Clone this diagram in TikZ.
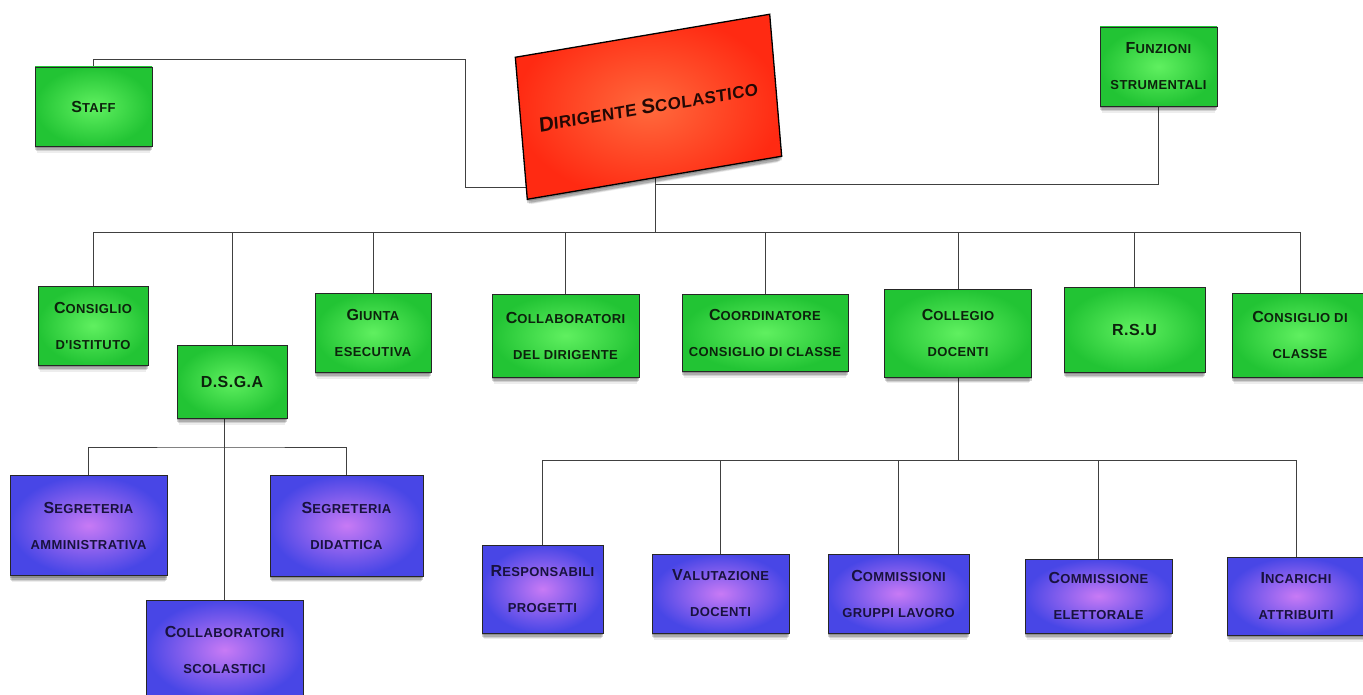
\documentclass[tikz,border=0pt]{standalone}
\usepackage{fontspec}
\usetikzlibrary{shadows,backgrounds}
\newfontfamily\lblfont[LetterSpace=3]{Liberation Sans}
\newcommand\scx[2]{{\fontsize{16}{36}\selectfont #1}{\fontsize{13}{36}\selectfont #2}}
\newcommand\scb[2]{{\fontsize{20.5}{24}\selectfont #1}{\fontsize{17}{24}\selectfont #2}}
\definecolor{gin}{RGB}{96,240,96}
\definecolor{gout}{RGB}{34,196,52}
\definecolor{pin}{RGB}{200,122,245}
\definecolor{pout}{RGB}{72,70,230}
\definecolor{rin}{RGB}{255,106,61}
\definecolor{rout}{RGB}{255,42,18}
\definecolor{gtxt}{RGB}{12,34,12}
\definecolor{ptxt}{RGB}{24,18,62}
\definecolor{rtxt}{RGB}{36,8,4}
\tikzset{
  softshadow/.style={
    drop shadow={shadow xshift=0pt, shadow yshift=-2pt, opacity=0.18, fill=black},
    drop shadow={shadow xshift=0pt, shadow yshift=-4pt, opacity=0.16, fill=black},
    drop shadow={shadow xshift=0pt, shadow yshift=-6pt, shadow scale=0.985, opacity=0.12, fill=black},
    drop shadow={shadow xshift=0pt, shadow yshift=-8pt, shadow scale=0.97, opacity=0.07, fill=black}},
  box/.style={draw=black!85, line width=0.8pt, inner sep=0pt, align=center,
    font=\lblfont\bfseries\fontsize{13}{36}\selectfont, softshadow},
  gbox/.style={box, shading=radial, inner color=gin, outer color=gout, text=gtxt},
  pbox/.style={box, shading=radial, inner color=pin, outer color=pout, text=ptxt},
  link/.style={draw=black!75, line width=0.8pt},
}
\begin{document}
\begin{tikzpicture}[x=1pt,y=-1pt]
\useasboundingbox (0,0) rectangle (1363,695);
% top level
\node[box, shading=radial, inner color=rin, outer color=rout, text=rtxt,
  line width=1.3pt, draw=black, minimum width=258pt, minimum height=142pt,
  rotate=9.6, xslant=0.0835, font=\lblfont\bfseries\fontsize{17}{24}\selectfont] (ds) at (648.5,106.75)
  {\scb{D}{IRIGENTE} \scb{S}{COLASTICO}};
\node[gbox, minimum width=117pt, minimum height=79pt] (st) at (93.5,106.5) {\scx{S}{TAFF}};
\node[gbox, minimum width=117pt, minimum height=79pt] (fs) at (1158.5,66.5) {\scx{F}{UNZIONI}\\\scx{}{STRUMENTALI}};
% second row
\node[gbox, minimum width=110pt, minimum height=79pt] (ci) at (93,325.5) {\scx{C}{ONSIGLIO}\\\scx{}{D'ISTITUTO}};
\node[gbox, minimum width=110pt, minimum height=73pt] (dsga) at (232,381.5) {\scx{D.S.G.A}{}};
\node[gbox, minimum width=116pt, minimum height=79pt] (ge) at (373,332.5) {\scx{G}{IUNTA}\\\scx{}{ESECUTIVA}};
\node[gbox, minimum width=147pt, minimum height=83pt] (cdd) at (565.5,335.5) {\scx{C}{OLLABORATORI}\\\scx{}{DEL DIRIGENTE}};
\node[gbox, minimum width=166pt, minimum height=77pt] (cc) at (765,332.5) {\scx{C}{OORDINATORE}\\\scx{}{CONSIGLIO DI CLASSE}};
\node[gbox, minimum width=147pt, minimum height=88pt] (cd) at (958,333) {\scx{C}{OLLEGIO}\\\scx{}{DOCENTI}};
\node[gbox, minimum width=141pt, minimum height=85pt] (rsu) at (1134.5,329.5) {\scx{R.S.U}{}};
\node[gbox, minimum width=136pt, minimum height=84pt] (cdc) at (1300,335) {\scx{C}{ONSIGLIO DI}\\\scx{}{CLASSE}};
% DSGA children
\node[pbox, minimum width=157pt, minimum height=100pt] (sa) at (88.5,525.5) {\scx{S}{EGRETERIA}\\\scx{}{AMMINISTRATIVA}};
\node[pbox, minimum width=153pt, minimum height=101pt] (sd) at (346.5,525.5) {\scx{S}{EGRETERIA}\\\scx{}{DIDATTICA}};
\node[pbox, minimum width=157pt, minimum height=100pt] (cs) at (224.5,650) {\scx{C}{OLLABORATORI}\\\scx{}{SCOLASTICI}};
% Collegio children
\node[pbox, minimum width=121pt, minimum height=88pt] (rp) at (542.5,589) {\scx{R}{ESPONSABILI}\\\scx{}{PROGETTI}};
\node[pbox, minimum width=137pt, minimum height=79pt] (vd) at (720.5,593.5) {\scx{V}{ALUTAZIONE}\\\scx{}{DOCENTI}};
\node[pbox, minimum width=141pt, minimum height=79pt] (cg) at (898.5,593.5) {\scx{C}{OMMISSIONI}\\\scx{}{GRUPPI LAVORO}};
\node[pbox, minimum width=147pt, minimum height=74pt] (ce) at (1098.5,596) {\scx{C}{OMMISSIONE}\\\scx{}{ELETTORALE}};
\node[pbox, minimum width=138pt, minimum height=78pt] (ia) at (1296,596) {\scx{I}{NCARICHI}\\\scx{}{ATTRIBUITI}};
% junctions
\coordinate (sj) at (600,187);
\coordinate (dj) at (655,184);
\coordinate (dtop) at (655,150);
\coordinate (b0) at (655,232);
\coordinate (b1) at (224.5,447);
\coordinate (b2) at (958,460);
\begin{scope}[on background layer]
\fill[white] (0,0) rectangle (1363,695);
\draw[link] (st.north) |- (465,59) |- (sj);
\draw[link] (fs.south) |- (dj);
\draw[link] (dtop) -- (b0);
\foreach \n in {ci,dsga,ge,cdd,cc,cd,rsu,cdc} \draw[link] (b0) -| (\n.north);
\draw[link] (cs.north) -- (cs.north |- dsga.south);
\draw[link] (sa.north) |- (b1) -| (sd.north);
\draw[link] (cd.south) -- (b2);
\foreach \n in {rp,vd,cg,ce,ia} \draw[link] (b2) -| (\n.north);
\end{scope}
\end{tikzpicture}
\end{document}
